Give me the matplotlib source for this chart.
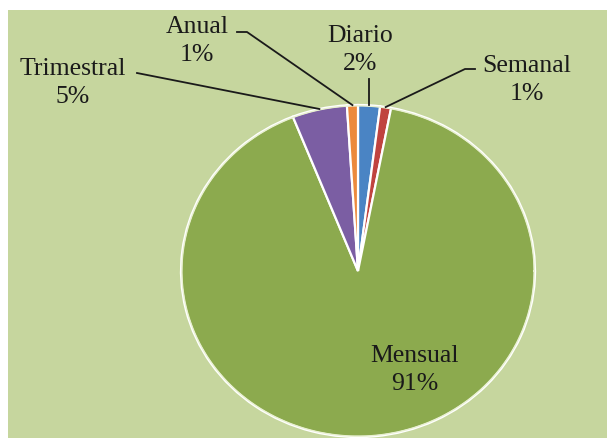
import numpy as np
import matplotlib
matplotlib.use("Agg")
import matplotlib.pyplot as plt
from matplotlib.patches import Rectangle

# Frequency of the activity (share of respondents)
categories = ["Diario", "Semanal", "Mensual", "Trimestral", "Anual"]
values = [2, 1, 91, 5, 1]
colors = ["#4a84c4", "#c0433f", "#8caa4e", "#7b5ea3", "#ec8a3c"]

W, H = 607, 439
fig = plt.figure(figsize=(W / 100, H / 100), dpi=100)
fig.patch.set_facecolor("white")

# light green chart area
fig.patches.append(Rectangle((8 / W, -0.01), (W - 8) / W, (H - 11) / H + 0.01,
                             transform=fig.transFigure, facecolor="#c6d69e",
                             edgecolor="none", zorder=-10))

# pie geometry in pixels (slightly wider than tall)
cx, cy, rx, ry = 358, 272, 177, 166
ax = fig.add_axes([(cx - rx) / W, (H - cy - ry) / H, 2 * rx / W, 2 * ry / H])
ax.set_facecolor("none")
ax.set_zorder(1)

wedges, _ = ax.pie(values, colors=colors, startangle=90, counterclock=False,
                   radius=1.0, wedgeprops=dict(edgecolor="white", linewidth=1.6))
ax.set_aspect("auto")
ax.set_xlim(-1, 1)
ax.set_ylim(-1, 1)
ax.axis("off")

# faint rim highlight
t = np.linspace(0, 2 * np.pi, 400)
ax.plot(0.995 * np.cos(t), 0.995 * np.sin(t), color="#e8f0d0", lw=1.0, zorder=5)


def px(x, y):
    """pixel position -> pie data coordinates"""
    return (x - cx) / rx, (cy - y) / ry


total = sum(values)
pct = [round(v / total * 100) for v in values]

# label block centres (pixels) and leader elbow points
label_pos = {
    "Diario": (360, 50),
    "Semanal": (527, 80),
    "Mensual": (415, 370),
    "Trimestral": (73, 83),
    "Anual": (197, 41),
}
leader_start = {
    "Diario": [(None, 80)],
    "Semanal": [(475, 70), (465, 70)],
    "Trimestral": [(137, 74)],
    "Anual": [(237, 33), (247, 33)],
}

font = dict(family="Liberation Serif", size=18.5, color="#1a1a1a")

for w, name, p in zip(wedges, categories, pct):
    lx, ly = label_pos[name]
    fig.text(lx / W, 1 - ly / H, f"{name}\n{p}%", ha="center", va="center",
             linespacing=1.3, zorder=5, **font)
    if name in leader_start:
        mid = np.deg2rad((w.theta1 + w.theta2) / 2)
        end = (np.cos(mid) * 1.0, np.sin(mid) * 1.0)
        pts = []
        for qx, qy in leader_start[name]:
            if qx is None:  # vertical leader straight above the wedge
                pts.append((end[0], px(0, qy)[1]))
            else:
                pts.append(px(qx, qy))
        pts.append(end)
        xs, ys = zip(*pts)
        ax.plot(xs, ys, color="#1a1a1a", lw=1.3, clip_on=False, zorder=6)

fig.savefig("out.png", dpi=100, facecolor=fig.get_facecolor())
